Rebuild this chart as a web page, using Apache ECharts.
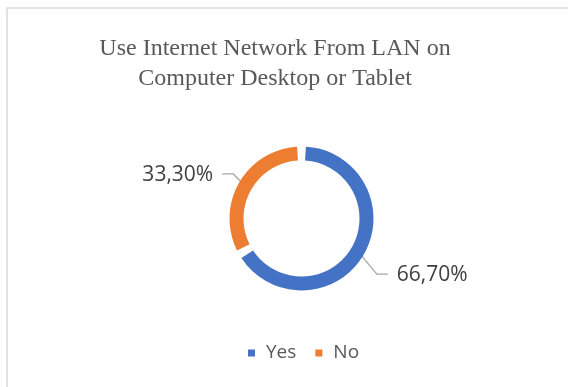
<!DOCTYPE html>
<html>
<head>
<meta charset="utf-8">
<script src="https://cdn.jsdelivr.net/npm/echarts@6/dist/echarts.min.js"></script>
<style>
html,body{margin:0;padding:0;background:#fff;}
#chart{width:568px;height:387px;}
</style>
</head>
<body>
<div id="chart"></div>
<script>
const titleLines = ['Use Internet Network From LAN on', 'Computer Desktop or Tablet'];
const categories = ['Yes', 'No'];
const values = [66.7, 33.3];
const colors = ['#4472C4', '#ED7D31'];
// label offsets relative to the default outside-label placement
const labelShiftX = [11.6, -4.6];
const labelShiftY = [14.5, -1.5];

const CENTER = [301.5, 218.5];
const R_IN = 58, R_OUT = 72;

const chart = echarts.init(document.getElementById('chart'), null, {renderer: 'canvas'});
chart.setOption({
  animation: false,
  backgroundColor: '#ffffff',
  graphic: [{
    type: 'rect', silent: true, z: -10,
    shape: {x: 7, y: 8, width: 700, height: 500},
    style: {fill: 'none', stroke: '#D9D9D9', lineWidth: 1.5}
  }],
  title: {
    text: titleLines.join('\n'),
    left: 275, top: 34, padding: 0,
    textAlign: 'center',
    textStyle: {
      fontFamily: 'Liberation Serif', fontSize: 24, fontWeight: 'normal',
      color: '#595959', lineHeight: 30
    }
  },
  legend: {
    data: categories,
    left: 248, top: 343, padding: 0,
    icon: 'rect', itemWidth: 7, itemHeight: 7, itemGap: 19,
    textStyle: {fontFamily: 'Open Sans', fontSize: 19, color: '#595959', padding: [0, 0, 0, 6], lineHeight: 20}
  },
  series: [{
    type: 'pie',
    center: CENTER,
    radius: [R_IN, R_OUT],
    startAngle: 90,
    clockwise: true,
    padAngle: 7,
    avoidLabelOverlap: false,
    emphasis: {disabled: true},
    data: categories.map((c, i) => ({name: c, value: values[i], itemStyle: {color: colors[i]}})),
    label: {
      show: true, position: 'outside',
      formatter: p => p.value.toFixed(2).replace('.', ',') + '%',
      fontFamily: 'Open Sans', fontSize: 21, color: '#404040',
      distanceToLabelLine: 0
    },
    labelLine: {
      show: true, length: 12, length2: 11,
      lineStyle: {color: '#A6A6A6', width: 1.3}
    },
    labelLayout: function (params) {
      const i = params.dataIndex;
      const r = params.labelRect;
      const right = i === 0;
      const side = right ? 1 : -1;
      const x = (right ? r.x : r.x + r.width) + labelShiftX[i];
      const y = r.y + r.height / 2 + labelShiftY[i];
      const a = params.labelLinePoints ? params.labelLinePoints[0] : [x, y];
      const k = 65 / R_OUT;
      const p0 = [CENTER[0] + (a[0] - CENTER[0]) * k, CENTER[1] + (a[1] - CENTER[1]) * k];
      const p2 = [x - side * 9, y - 1];
      const p1 = [p2[0] - side * 11, p2[1]];
      return {
        x: x, y: y,
        align: right ? 'left' : 'right',
        verticalAlign: 'middle',
        labelLinePoints: [p0, p1, p2]
      };
    }
  }]
});
</script>
</body>
</html>
